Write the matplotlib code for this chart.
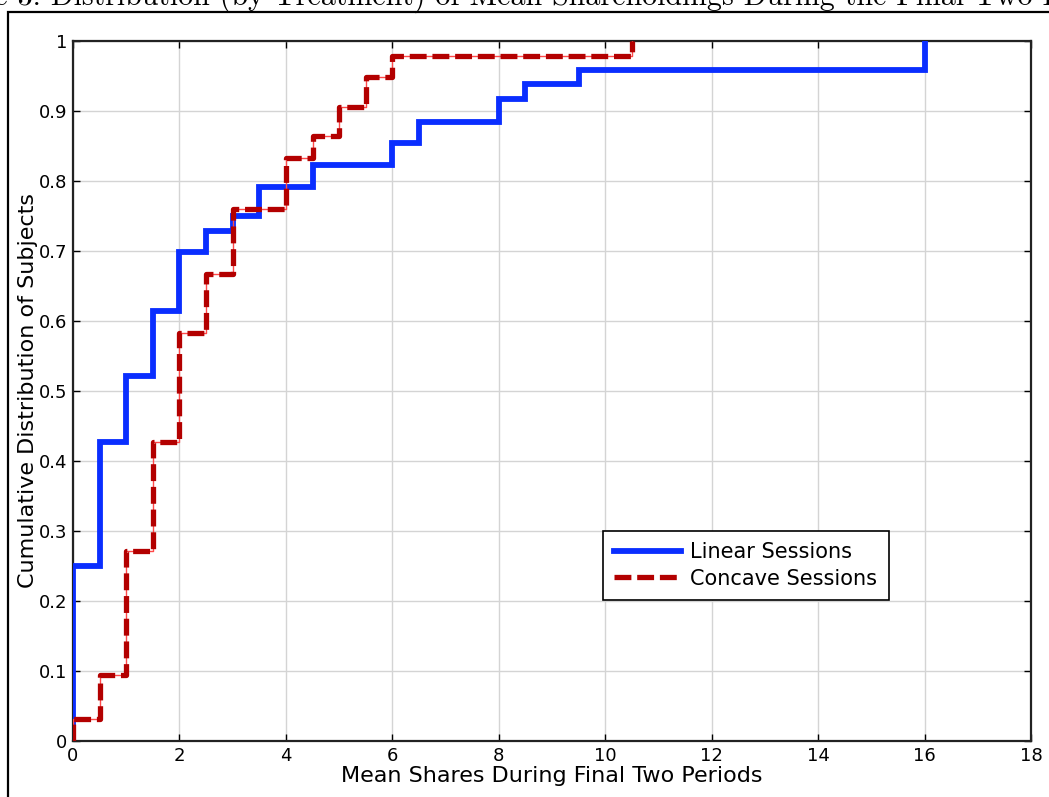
import numpy as np
import matplotlib
matplotlib.use('Agg')
import matplotlib.pyplot as plt
from matplotlib.patches import Rectangle

# mean shares held over the final two periods, with the empirical CDF after each step
linear_x = [0, 0, 0.5, 1, 1.5, 2, 2.5, 3, 3.5, 4.5, 6, 6.5, 8, 8.5, 9.5, 16, 16]
linear_cdf = [0, 0.25, 0.427, 0.521, 0.615, 0.698, 0.729, 0.75, 0.792, 0.823,
              0.854, 0.885, 0.917, 0.938, 0.958, 1.0, 1.0]
concave_x = [0, 0, 0.5, 1, 1.5, 2, 2.5, 3, 4, 4.5, 5, 5.5, 6, 10.5, 10.5]
concave_cdf = [0, 0.031, 0.094, 0.271, 0.427, 0.583, 0.667, 0.76, 0.833, 0.865,
               0.906, 0.948, 0.979, 1.0, 1.0]

title = 'Figure 3: Distribution (by Treatment) of Mean Shareholdings During the Final Two Periods'
x_ticks = np.arange(0, 19, 2)
y_ticks = np.arange(0, 1.01, 0.1)
y_tick_labels = ['0', '0.1', '0.2', '0.3', '0.4', '0.5', '0.6', '0.7', '0.8', '0.9', '1']

fig = plt.figure(figsize=(10.49, 7.97), dpi=100)
ax = fig.add_axes([73/1049, 56/797, 958/1049, 700/797])

ax.step(linear_x, linear_cdf, where='post', color='#0a2eff', lw=4.2,
        label='Linear Sessions', zorder=3, solid_joinstyle='miter')
ax.step(concave_x, concave_cdf, where='post', color='#ff4a4a', lw=1.0, zorder=4)
ax.step(concave_x, concave_cdf, where='post', color='#b30000', lw=3.8,
        dashes=(3.2, 1.1), label='Concave Sessions', zorder=5)

ax.set_xlim(0, 18)
ax.set_ylim(0, 1)
ax.set_xticks(x_ticks)
ax.set_yticks(y_ticks)
ax.set_yticklabels(y_tick_labels)
ax.grid(True, color='#d4d4d4', lw=1.0, zorder=0)
ax.set_axisbelow(True)
ax.tick_params(direction='in', length=5, width=1, top=True, right=True,
               labelsize=13, colors='black')
ax.tick_params(axis='x', pad=4)
ax.tick_params(axis='y', pad=4)
for s in ax.spines.values():
    s.set_linewidth(1.6)
    s.set_color('#222222')

ax.set_xlabel('Mean Shares During Final Two Periods', fontsize=16)
ax.set_ylabel('Cumulative Distribution of Subjects', fontsize=16)
ax.xaxis.set_label_coords(0.5, -0.036)
ax.yaxis.set_label_coords(-0.037, 0.5)

leg = ax.legend(loc='upper left', bbox_to_anchor=(0.553, 0.30), fontsize=15,
                fancybox=False, framealpha=1, edgecolor='black', borderpad=0.55,
                handlelength=3.2, handletextpad=0.45, labelspacing=0.3,
                borderaxespad=0)
leg.get_frame().set_linewidth(1.2)

# page frame and the caption running off the top edge
fig.patches.append(Rectangle((8/1049, -0.1), 1.2, 1.1 - 12/797, transform=fig.transFigure,
                             fill=False, edgecolor='black', lw=1.6))
fig.text(-77/1049, 1 - 5/797, title, family='cmr10', fontsize=21.6,
         ha='left', va='baseline')

fig.savefig('out.png', dpi=100)
